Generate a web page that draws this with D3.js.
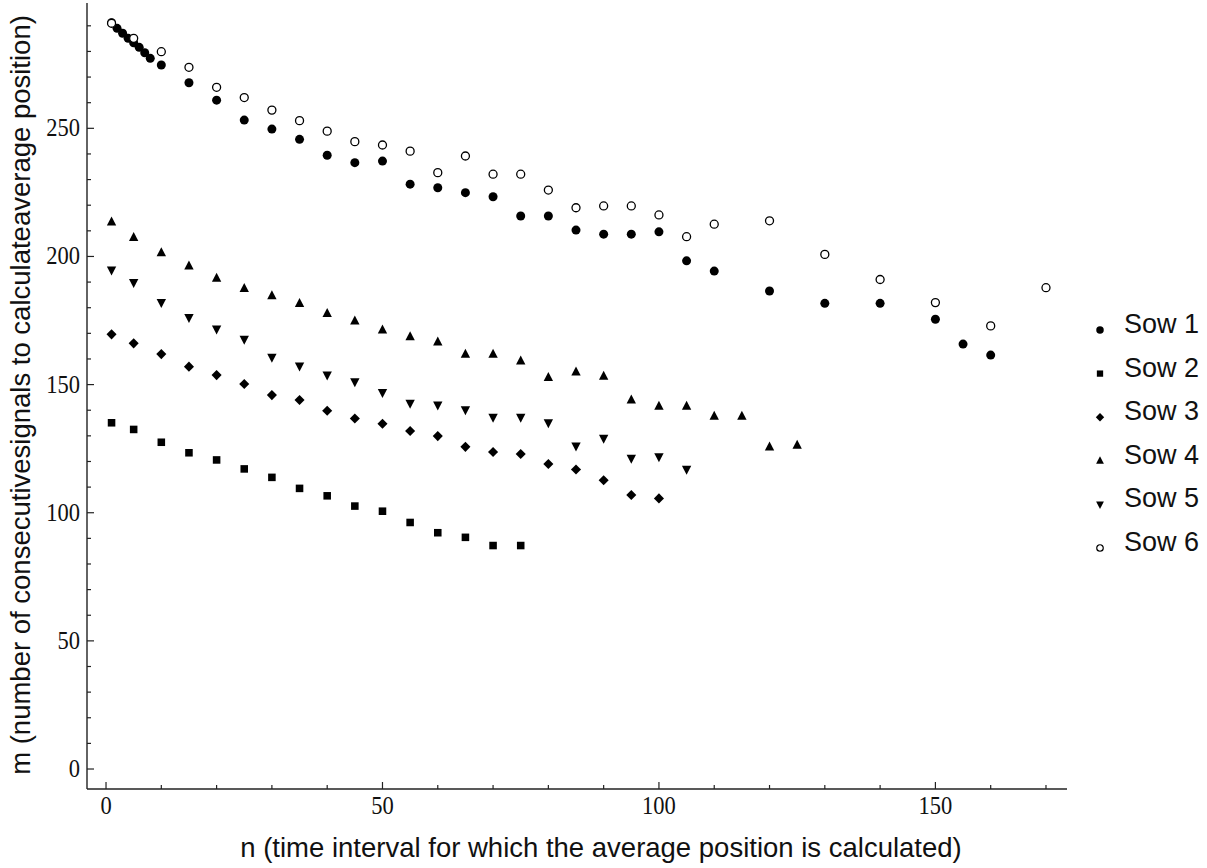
<!DOCTYPE html>
<html>
<head>
<meta charset="utf-8">
<script src="https://cdn.jsdelivr.net/npm/d3@7"></script>
<style>
  html, body { margin: 0; padding: 0; background: #fff; }
  svg { display: block; }
</style>
</head>
<body>
<svg id="chart" width="1207" height="868"></svg>
<script>
// ---- data ----
const seriesNames = ["Sow 1", "Sow 2", "Sow 3", "Sow 4", "Sow 5", "Sow 6"];

const nSow1 = [1,2,3,4,5,6,7,8,10,15,20,25,30,35,40,45,50,55,60,65,70,75,80,85,90,95,100,105,110,120,130,140,150,155,160];
const mSow1 = [291.2,289.0,287.1,285.1,283.4,281.6,279.5,277.3,274.7,267.8,261.0,253.2,249.7,245.7,239.5,236.6,237.2,228.2,226.8,224.9,223.3,215.8,215.8,210.3,208.7,208.7,209.6,198.3,194.3,186.5,181.7,181.7,175.5,165.8,161.5];

const nSow2 = [1,5,10,15,20,25,30,35,40,45,50,55,60,65,70,75];
const mSow2 = [135.1,132.5,127.5,123.4,120.6,117.1,113.8,109.5,106.6,102.6,100.6,96.2,92.2,90.4,87.2,87.2];

const nSow3 = [1,5,10,15,20,25,30,35,40,45,50,55,60,65,70,75,80,85,90,95,100];
const mSow3 = [169.6,166.1,161.9,157.0,153.7,150.2,145.9,144.0,139.8,136.8,134.7,131.9,129.9,125.7,123.7,122.9,119.0,116.9,112.7,106.9,105.6];

const nSow4 = [1,5,10,15,20,25,30,35,40,45,50,55,60,65,70,75,80,85,90,95,100,105,110,115,120,125];
const mSow4 = [213.5,207.4,201.5,196.3,191.5,187.5,184.7,181.7,177.8,174.9,171.3,168.7,166.7,161.9,161.9,159.2,152.8,155.0,153.3,144.0,141.6,141.6,137.7,137.7,125.7,126.4];

const nSow5 = [1,5,10,15,20,25,30,35,40,45,50,55,60,65,70,75,80,85,90,95,100,105];
const mSow5 = [194.7,189.8,182.0,176.1,171.7,167.7,160.6,157.2,153.7,151.1,146.9,142.7,142.0,140.1,137.2,137.2,135.1,126.0,129.0,121.2,121.8,116.9];

const nSow6 = [1,5,10,15,20,25,30,35,40,45,50,55,60,65,70,75,80,85,90,95,100,105,110,120,130,140,150,160,170];
const mSow6 = [291.0,285.1,279.9,273.8,266.0,262.0,257.1,253.0,248.9,244.8,243.5,241.1,232.7,239.2,232.1,232.1,225.9,219.0,219.7,219.7,216.2,207.7,212.6,213.9,200.8,191.0,182.0,172.9,187.8];

const xMajorTicks = [0, 50, 100, 150];
const yMajorTicks = [0, 50, 100, 150, 200, 250];

const xTitle = "n (time interval for which the average position is calculated)";
const yTitle = "m (number of consecutivesignals to calculateaverage position)";

// ---- layout ----
const svg = d3.select("#chart");
const axisLeft = 87, axisBottom = 789;
const x = d3.scaleLinear().domain([-3.44, 173.8]).range([87, 1067]);
const y = d3.scaleLinear().domain([-7.8, 298.9]).range([789, 3]);

const nArr = [nSow1, nSow2, nSow3, nSow4, nSow5, nSow6];
const mArr = [mSow1, mSow2, mSow3, mSow4, mSow5, mSow6];
const shapes = ["disk", "square", "diamond", "up", "down", "ring"];

function shapePath(shape, s) {
  const p = d3.path();
  if (shape === "disk" || shape === "ring") {
    p.arc(0, 0, s / 2, 0, 2 * Math.PI);
  } else if (shape === "square") {
    const h = s * 0.42;
    p.rect(-h, -h, 2 * h, 2 * h);
  } else if (shape === "diamond") {
    const h = s * 0.56;
    p.moveTo(0, -h); p.lineTo(h, 0); p.lineTo(0, h); p.lineTo(-h, 0); p.closePath();
  } else if (shape === "up") {
    const w = s * 0.52, t = s * 0.6, b = s * 0.4;
    p.moveTo(0, -t); p.lineTo(w, b); p.lineTo(-w, b); p.closePath();
  } else if (shape === "down") {
    const w = s * 0.52, t = s * 0.6, b = s * 0.4;
    p.moveTo(0, t); p.lineTo(w, -b); p.lineTo(-w, -b); p.closePath();
  }
  return p.toString();
}

const serif = "'Liberation Serif', 'Times New Roman', serif";
const sans = "'Liberation Sans', Arial, sans-serif";

// ---- axes ----
const axisColor = "#222";
const xAxis = svg.append("g").attr("transform", `translate(0,${axisBottom})`);
xAxis.append("line").attr("x1", 87).attr("x2", 1067)
  .attr("stroke", axisColor).attr("stroke-width", 1.4);
const xMinor = d3.range(0, 171, 10);
xAxis.selectAll("line.tick").data(xMinor).join("line").attr("class", "tick")
  .attr("x1", d => x(d)).attr("x2", d => x(d))
  .attr("y1", 0).attr("y2", d => xMajorTicks.includes(d) ? -7 : -4)
  .attr("stroke", axisColor).attr("stroke-width", 1.2);
xAxis.selectAll("text").data(xMajorTicks).join("text")
  .attr("transform", d => `translate(${x(d)},25) scale(0.9,1)`)
  .attr("text-anchor", "middle")
  .attr("font-family", serif).attr("font-size", 25).attr("fill", "#111")
  .text(d => d);

const yAxis = svg.append("g").attr("transform", `translate(${axisLeft},0)`);
yAxis.append("line").attr("y1", 3).attr("y2", 789)
  .attr("stroke", axisColor).attr("stroke-width", 1.4);
const yMinor = d3.range(0, 291, 10);
yAxis.selectAll("line.tick").data(yMinor).join("line").attr("class", "tick")
  .attr("y1", d => y(d)).attr("y2", d => y(d))
  .attr("x1", 0).attr("x2", d => yMajorTicks.includes(d) ? 7 : 4)
  .attr("stroke", axisColor).attr("stroke-width", 1.2);
yAxis.selectAll("text").data(yMajorTicks).join("text")
  .attr("transform", d => `translate(-7,${y(d) + 8}) scale(0.9,1)`)
  .attr("text-anchor", "end")
  .attr("font-family", serif).attr("font-size", 25).attr("fill", "#111")
  .text(d => d);

// ---- titles ----
svg.append("text").attr("x", 601).attr("y", 857).attr("text-anchor", "middle")
  .attr("font-family", sans).attr("font-size", 27.5).attr("fill", "#111")
  .text(xTitle);
svg.append("text").attr("transform", "translate(30,395) rotate(-90)").attr("text-anchor", "middle")
  .attr("font-family", sans).attr("font-size", 27.5).attr("fill", "#111")
  .text(yTitle);

// ---- points ----
const plot = svg.append("g");
nArr.forEach((ns, i) => {
  const pts = ns.map((n, j) => ({ n, m: mArr[i][j] }));
  const sh = shapes[i];
  plot.append("g").selectAll("path").data(pts).join("path")
    .attr("transform", d => `translate(${x(d.n)},${y(d.m)})`)
    .attr("d", shapePath(sh, sh === "ring" ? 8 : 9))
    .attr("fill", sh === "ring" ? "#fff" : "#000")
    .attr("stroke", sh === "ring" ? "#000" : "none")
    .attr("stroke-width", sh === "ring" ? 1.3 : 0);
});

// ---- legend ----
const legend = svg.append("g");
seriesNames.forEach((name, i) => {
  const base = 333 + i * 43.6;
  const sh = shapes[i];
  legend.append("path")
    .attr("transform", `translate(1100,${base - 3})`)
    .attr("d", shapePath(sh, sh === "ring" ? 6.5 : 7.5))
    .attr("fill", sh === "ring" ? "#fff" : "#000")
    .attr("stroke", sh === "ring" ? "#000" : "none")
    .attr("stroke-width", sh === "ring" ? 1.2 : 0);
  legend.append("text").attr("x", 1124).attr("y", base)
    .attr("font-family", sans).attr("font-size", 27).attr("fill", "#111")
    .text(name);
});
</script>
</body>
</html>
